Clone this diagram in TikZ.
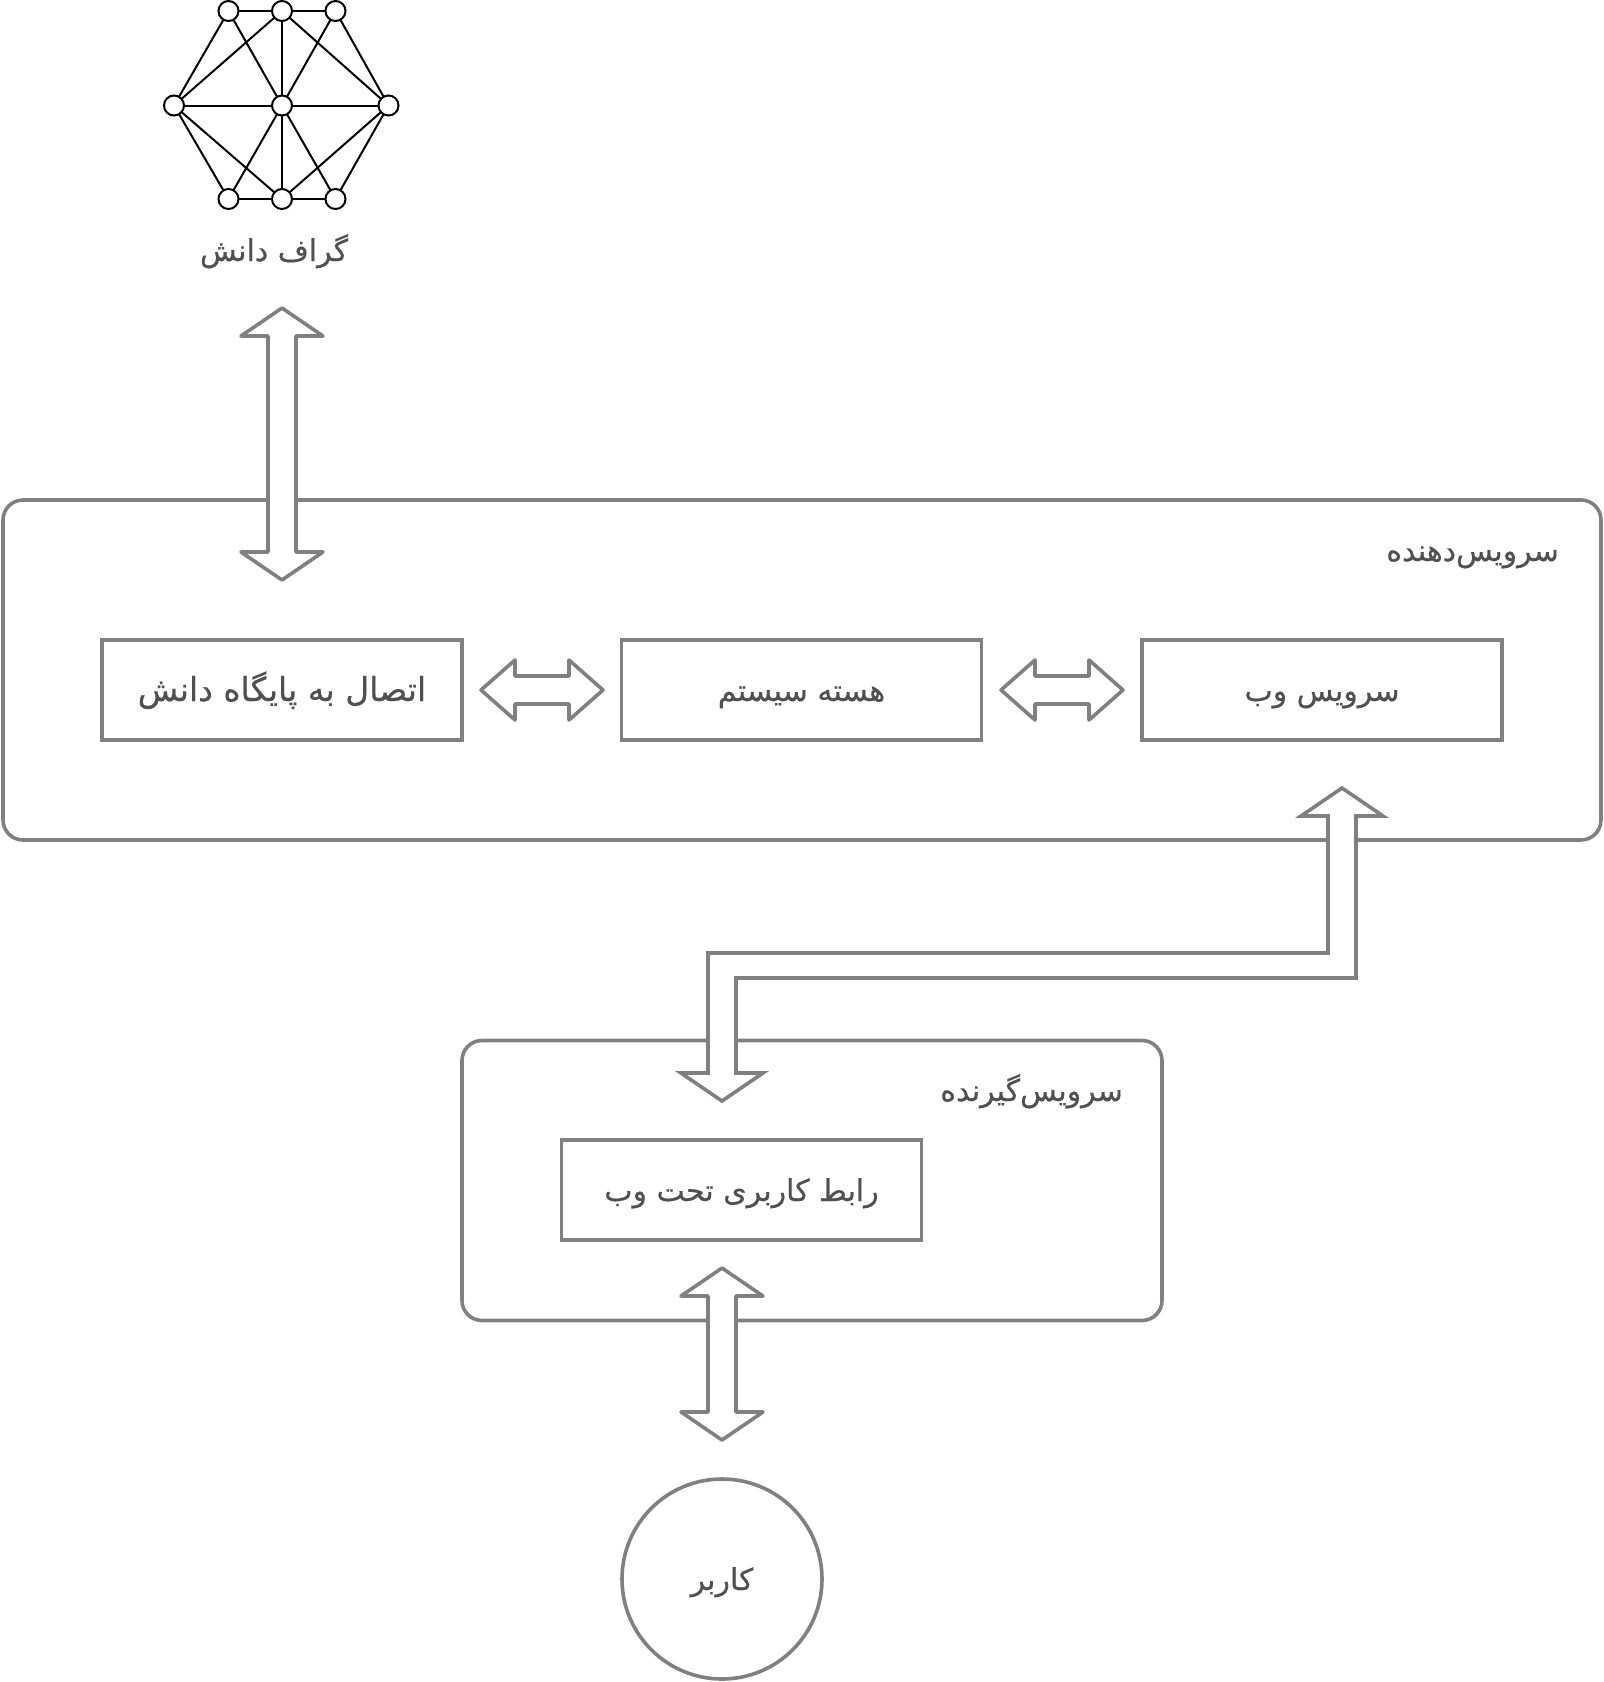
\documentclass[tikz,border=0pt]{standalone}
\usepackage{fontspec}
\setmainfont{DejaVu Sans}
\newfontfamily\arabicfont[Script=Arabic,FakeBold=0.5]{DejaVu Sans}
\TeXXeTstate=1
\usetikzlibrary{calc}
\definecolor{linegray}{HTML}{808080}
\definecolor{textgray}{HTML}{505050}
\tikzset{
  frame/.style={draw=linegray,line width=3.6pt,rounded corners=20pt},
  unit/.style={draw=linegray,line width=3.6pt,minimum width=360pt,minimum height=100pt,inner sep=0pt},
  hollow/.style={draw=linegray,fill=white,line width=3.6pt,line join=round},
  word/.style={text=textgray,font=\arabicfont\fontsize{30}{36}\selectfont,inner sep=0pt,text height=24pt,text depth=2pt},
  vertex/.style={circle,draw=black,fill=white,line width=2pt,minimum size=20pt,inner sep=0pt},
}
\newcommand{\fa}[1]{\beginR #1\endR}
% hollow double arrow, first tip above the second
\newcommand{\vhollow}[2]{%
  \draw[hollow] (#1) -- ++(41,28) -- ++(-27,0) -- ($(#2)+(14,-28)$) -- ++(27,0) -- (#2)
    -- ++(-41,-28) -- ++(27,0) -- ($(#1)+(-14,28)$) -- ++(-27,0) -- cycle;}
% hollow double arrow, first tip left of the second
\newcommand{\hhollow}[2]{%
  \draw[hollow] (#1) -- ++(34,-30) -- ++(0,16) -- ($(#2)+(-34,-14)$) -- ++(0,-16) -- (#2)
    -- ++(-34,30) -- ++(0,-16) -- ($(#1)+(34,14)$) -- ++(0,16) -- cycle;}
\begin{document}
\begin{tikzpicture}[x=1pt,y=-1pt]
  \useasboundingbox (0,0) rectangle (1604,1682);

  \node[frame,minimum width=1598pt,minimum height=340pt,inner sep=0pt] (server) at (802,670) {}; %Server frame
  \node[frame,minimum width=700pt,minimum height=280pt,inner sep=0pt] (client) at (812,1180.5) {}; %Client frame

  \node[word,anchor=east] (serverlabel) at (1559,550) {\fa{سرویس‌دهنده}};
  \node[word,anchor=east] (clientlabel) at (1123,1090) {\fa{سرویس‌گیرنده}};

  \node[unit,word,font=\arabicfont\fontsize{33}{36}\selectfont] (connector) at (282,690) {\fa{اتصال به پایگاه دانش}};
  \node[unit,word] (core) at (801.5,690) {\fa{هسته سیستم}};
  \node[unit,word] (web) at (1322,690) {\fa{سرویس وب}};
  \node[unit,word] (ui) at (741.5,1190) {\fa{رابط کاربری تحت وب}};
  \node[word,circle,draw=linegray,line width=3.6pt,minimum size=200pt] (user) at (722,1579) {\fa{کاربر}};

  % knowledge graph
  \coordinate (gc) at (282,105.5);
  \foreach \name/\px/\py in {tl/228.5/11,tm/282/11,tr/335.5/11,ml/174/105.5,mr/388.5/105.5,bl/228.5/199,bm/282/199,br/335.5/199}
    \coordinate (g\name) at (\px,\py);
  \foreach \from/\to in {tl/tm,tm/tr,bl/bm,bm/br,ml/tl,ml/bl,mr/tr,mr/br,ml/tm,ml/bm,mr/tm,mr/bm}
    \draw[line width=2pt] (g\from) -- (g\to);
  \foreach \from in {tl,tm,tr,ml,mr,bl,bm,br}
    \draw[line width=2pt] (g\from) -- (gc);
  \foreach \name in {tl,tm,tr,ml,mr,bl,bm,br}
    \node[vertex] at (g\name) {};
  \node[vertex] at (gc) {};
  \node[word] (graphlabel) at (274,250) {\fa{گراف دانش}};

  % hollow arrows
  \coordinate (graphtip) at (282,308);
  \coordinate (connectortip) at (282,580);
  \vhollow{graphtip}{connectortip}
  \coordinate (lefta) at (481,690);
  \coordinate (leftb) at (603,690);
  \hhollow{lefta}{leftb}
  \coordinate (righta) at (1001,690);
  \coordinate (rightb) at (1123,690);
  \hhollow{righta}{rightb}
  \coordinate (uitip) at (722,1268);
  \coordinate (usertip) at (722,1440);
  \vhollow{uitip}{usertip}

  \coordinate (webtip) at (1342,788);
  \coordinate (clienttip) at (722,1101);
  \draw[hollow,line join=miter] (webtip) -- ++(41,28) -- ++(-27,0) -- ++(0,162) -- ++(-620,0)
    -- ($(clienttip)+(14,-28)$) -- ++(27,0) -- (clienttip) -- ++(-41,-28) -- ++(27,0)
    -- ++(0,-120) -- ++(620,0) -- ($(webtip)+(-14,28)$) -- ++(-27,0) -- cycle; %Bent arrow
\end{tikzpicture}
\end{document}
